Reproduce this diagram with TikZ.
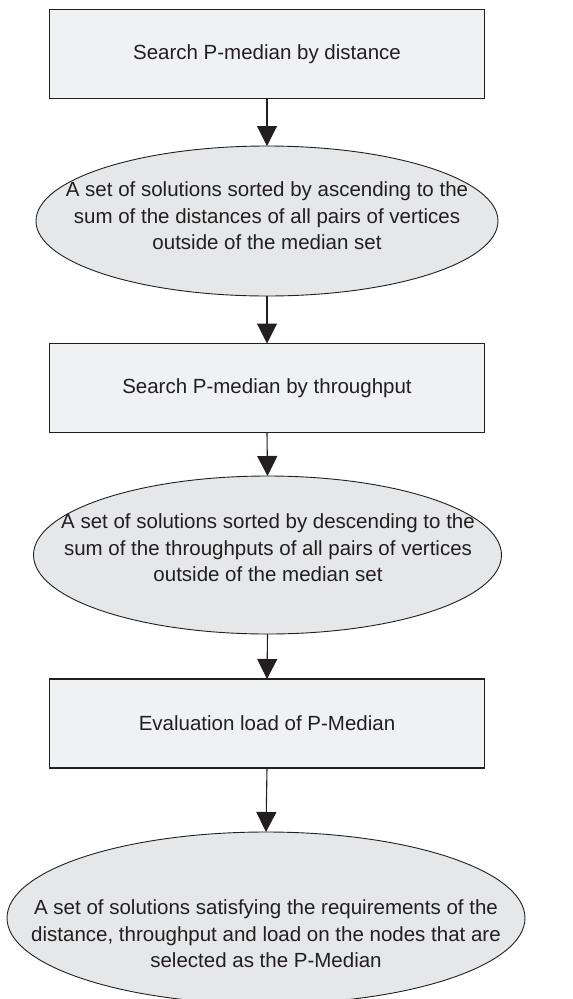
\documentclass[tikz,border=0pt]{standalone}
\usepackage{fontspec}
\setmainfont{Liberation Sans}
\usetikzlibrary{shapes.geometric,arrows.meta}
\definecolor{boxfill}{HTML}{F0F1F3}
\definecolor{ellfill}{HTML}{E6E7E8}
\definecolor{ink}{HTML}{231F20}
\begin{document}
\begin{tikzpicture}[x=1pt,y=-1pt,
  every node/.style={inner sep=0pt, outer sep=0pt},
  procbox/.style={draw=ink, line width=1.1pt, fill=boxfill, rectangle,
    minimum width=435pt, minimum height=89pt},
  resultell/.style={draw=ink, line width=0.9pt, fill=ellfill, ellipse},
  label text/.style={text=ink, align=center,
    font=\fontsize{20.5pt}{26.5pt}\selectfont},
  flow/.style={draw=ink, line width=1.1pt,
    -{Triangle[length=20pt,width=20pt]}}]
  \useasboundingbox (0,0) rectangle (573,999);

  % process boxes
  \node[procbox] (b1) at (267,54) {};
  \node[procbox] (b2) at (267,388) {};
  \node[procbox] (b3) at (267,723.5) {};

  % result ellipses
  \node[resultell, minimum width=462pt, minimum height=150pt] (e1) at (267,221) {};
  \node[resultell, minimum width=468pt, minimum height=158pt] (e2) at (267.5,555) {};
  \node[resultell, minimum width=518pt, minimum height=172pt] (e3) at (266,918) {};

  % texts
  \node[label text] (t1) at (b1.center) {Search P-median by distance};
  \node[label text] (t2) at (b2.center) {Search P-median by throughput};
  \node[label text] (t3) at (b3.center) {Evaluation load of P-Median};
  \node[label text] (u1) at (267,216) {A set of solutions sorted by ascending to the\\
    sum of the distances of all pairs of vertices\\ outside of the median set};
  \node[label text] (u2) at (268,548) {A set of solutions sorted by descending to the\\
    sum of the throughputs of all pairs of vertices\\ outside of the median set};
  \node[label text] (u3) at (266,934) {A set of solutions satisfying the requirements of the\\
    distance, throughput and load on the nodes that are\\ selected as the P-Median};

  % flow arrows
  \draw[flow] (b1.south) -- (e1.north);
  \draw[flow] (e1.south) -- (b2.north);
  \draw[flow] (b2.south) -- (e2.north);
  \draw[flow] (e2.south) -- (b3.north);
  \draw[flow] (b3.south) -- (e3.north);
\end{tikzpicture}
\end{document}
